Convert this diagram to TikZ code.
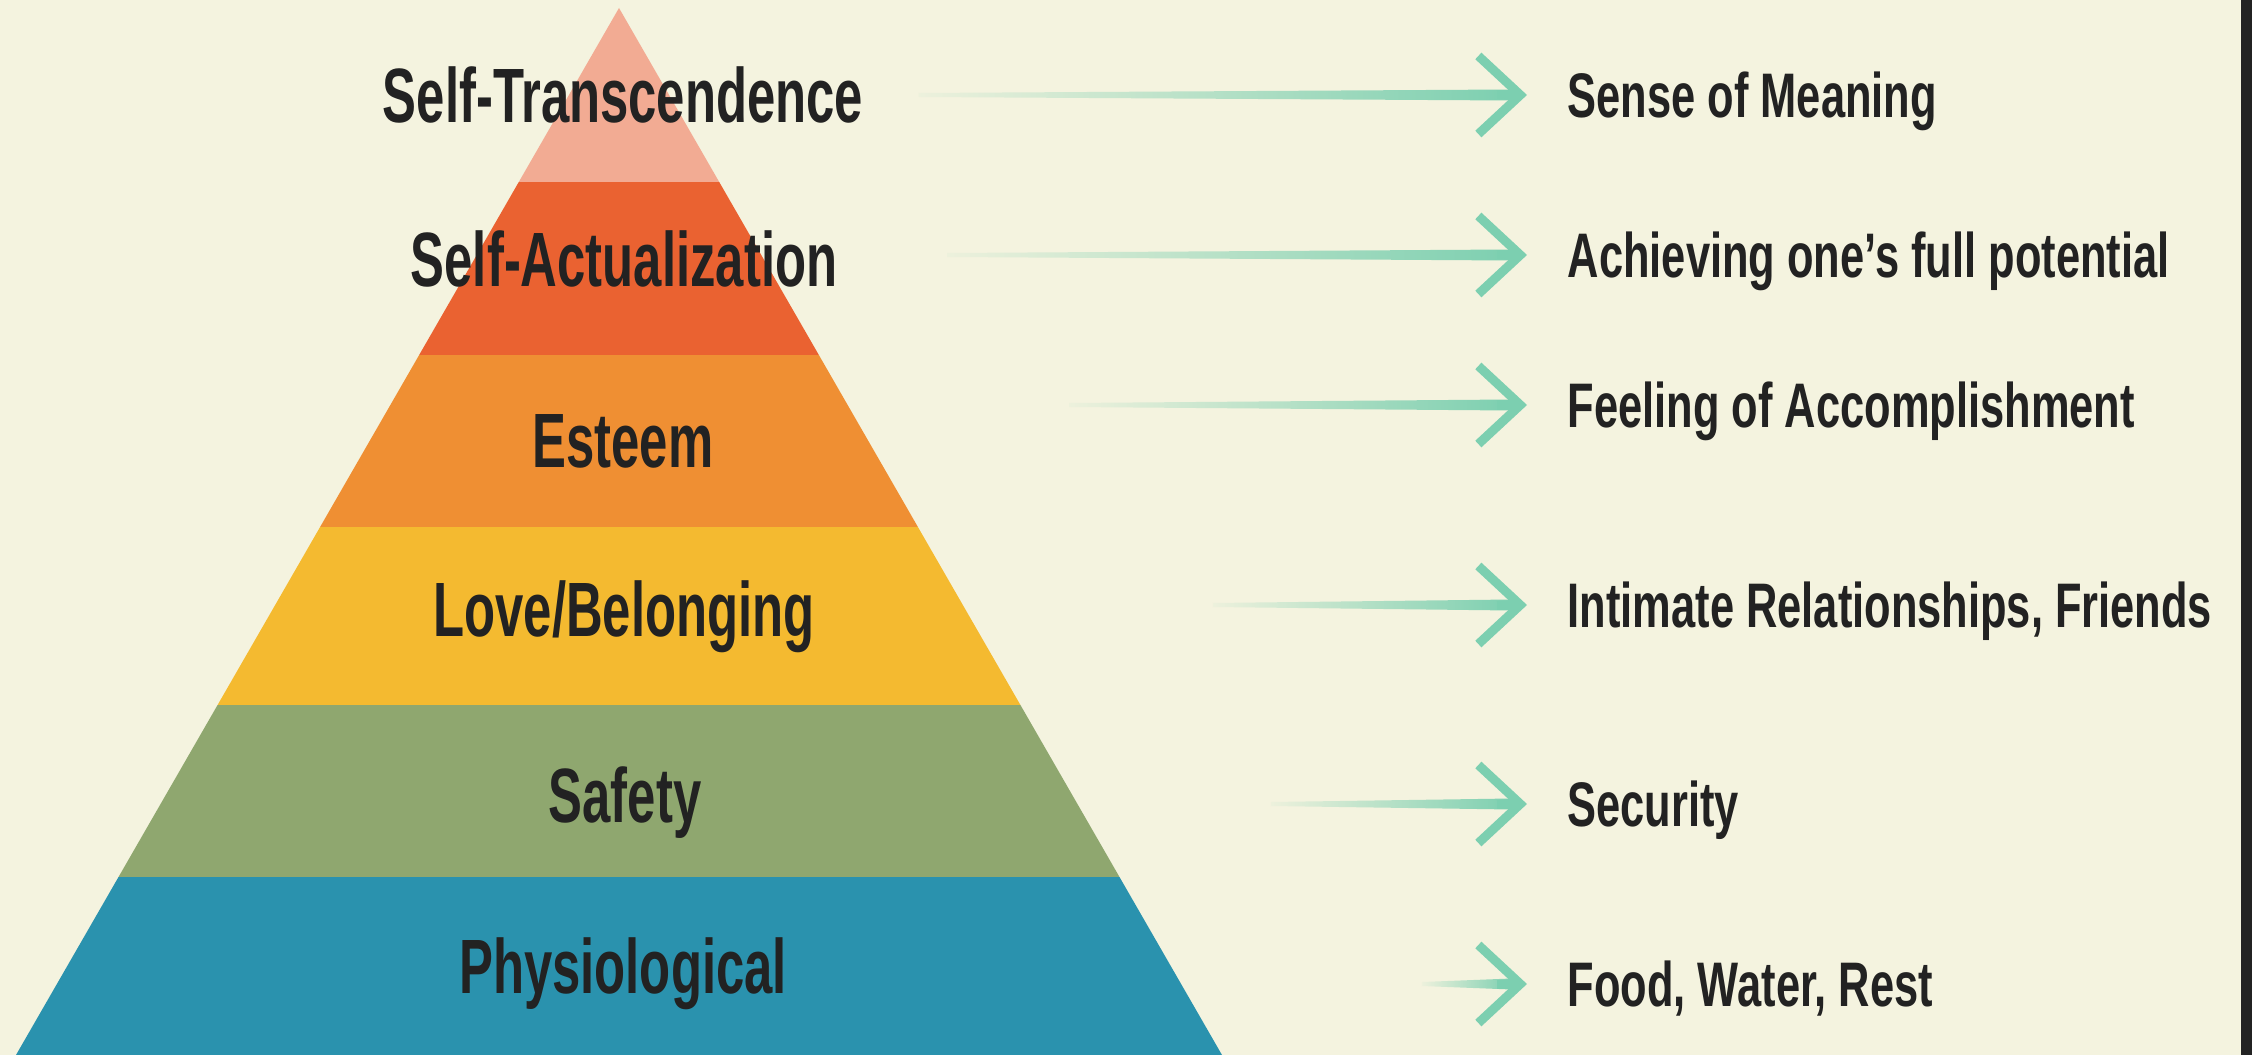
\documentclass[tikz,border=0pt]{standalone}
\usepackage{fontspec}
\newfontfamily\levelfont[FakeStretch=0.66]{Liberation Sans}
\newfontfamily\needfont[FakeStretch=0.69]{Liberation Sans}
\usetikzlibrary{positioning, arrows.meta}

\definecolor{cream}{HTML}{F4F3DF}
\definecolor{frame}{HTML}{232323}
\definecolor{ink}{HTML}{222222}
\definecolor{transcol}{HTML}{F2AB93}
\definecolor{actualcol}{HTML}{EA6231}
\definecolor{esteemcol}{HTML}{EF8F33}
\definecolor{lovecol}{HTML}{F4BA30}
\definecolor{safetycol}{HTML}{8FA76F}
\definecolor{physcol}{HTML}{2A92AE}
\definecolor{arrowcol}{HTML}{7CCFB0}

\begin{document}
\begin{tikzpicture}
	[x=0.01cm, y=-0.01cm,
	 level/.style={font=\levelfont\bfseries\fontsize{21.9}{24}\selectfont, text=ink, anchor=base, inner sep=0pt},
	 need/.style={font=\needfont\bfseries\fontsize{17.9}{20}\selectfont, text=ink, anchor=west, inner sep=0pt, text height=12.8pt, text depth=0pt},
	 shaft/.style={left color=arrowcol!6!cream, right color=arrowcol},
	 barb/.style={draw=arrowcol, line width=0.9mm, -{Straight Barb[length=4.2mm, width=7.8mm]}}]
   \useasboundingbox (0,0) rectangle (2252,1055);
   \fill[cream] (0,0) rectangle (2252,1055);
   \fill[frame] (2241,0) rectangle (2252,1055);

   % pyramid
   \coordinate (apex) at (619,8);
   \coordinate (base_l) at (16,1055);
   \coordinate (base_r) at (1222,1055);
   \begin{scope}
     \clip (apex) -- (base_l) -- (base_r) -- cycle;
     \fill[transcol]  (0,0)   rectangle (1300,182);
     \fill[actualcol] (0,182) rectangle (1300,355);
     \fill[esteemcol] (0,355) rectangle (1300,527);
     \fill[lovecol]   (0,527) rectangle (1300,705);
     \fill[safetycol] (0,705) rectangle (1300,877);
     \fill[physcol]   (0,877) rectangle (1300,1055);
   \end{scope}

   \node[level] (trans)  at (623,123) {Self-Transcendence};
   \node[level] (actual) at (624,287) {Self-Actualization};
   \node[level] (esteem) at (623,467) {Esteem};
   \node[level] (love)   at (624,636) {Love/Belonging};
   \node[level] (safety) at (625,822) {Safety};
   \node[level] (phys)   at (623,993) {Physiological};

   \node[need] (meaning)   at (1567,95)  {Sense of Meaning};
   \node[need] (potential) at (1567,255) {Achieving one’s full potential};
   \node[need] (accomp)    at (1567,405) {Feeling of Accomplishment};
   \node[need] (friends)   at (1567,605) {Intimate Relationships, Friends};
   \node[need] (security)  at (1567,804) {Security};
   \node[need] (food)      at (1567,984) {Food, Water, Rest};

   % arrows
   \coordinate[left=4mm of meaning]   (t_1);
   \coordinate[left=4mm of potential] (t_2);
   \coordinate[left=4mm of accomp]    (t_3);
   \coordinate[left=4mm of friends]   (t_4);
   \coordinate[left=4mm of security]  (t_5);
   \coordinate[left=4mm of food]      (t_6);
   \coordinate[left=6.08cm of t_1] (s_1);
   \coordinate[left=5.79cm of t_2] (s_2);
   \coordinate[left=4.57cm of t_3] (s_3);
   \coordinate[left=3.14cm of t_4] (s_4);
   \coordinate[left=2.56cm of t_5] (s_5);
   \coordinate[left=1.05cm of t_6] (s_6);

   \shade[shaft] ([yshift=0.2mm]s_1) -- ([xshift=-1.5mm, yshift=0.55mm]t_1) -- ([xshift=-1.5mm, yshift=-0.55mm]t_1) -- ([yshift=-0.2mm]s_1) -- cycle;
   \shade[shaft] ([yshift=0.2mm]s_2) -- ([xshift=-1.5mm, yshift=0.55mm]t_2) -- ([xshift=-1.5mm, yshift=-0.55mm]t_2) -- ([yshift=-0.2mm]s_2) -- cycle;
   \shade[shaft] ([yshift=0.2mm]s_3) -- ([xshift=-1.5mm, yshift=0.55mm]t_3) -- ([xshift=-1.5mm, yshift=-0.55mm]t_3) -- ([yshift=-0.2mm]s_3) -- cycle;
   \shade[shaft] ([yshift=0.2mm]s_4) -- ([xshift=-1.5mm, yshift=0.55mm]t_4) -- ([xshift=-1.5mm, yshift=-0.55mm]t_4) -- ([yshift=-0.2mm]s_4) -- cycle;
   \shade[shaft] ([yshift=0.2mm]s_5) -- ([xshift=-1.5mm, yshift=0.55mm]t_5) -- ([xshift=-1.5mm, yshift=-0.55mm]t_5) -- ([yshift=-0.2mm]s_5) -- cycle;
   \shade[shaft] ([yshift=0.2mm]s_6) -- ([xshift=-1.5mm, yshift=0.55mm]t_6) -- ([xshift=-1.5mm, yshift=-0.55mm]t_6) -- ([yshift=-0.2mm]s_6) -- cycle;
   \draw[barb] ([xshift=-3mm]t_1) -- (t_1);
   \draw[barb] ([xshift=-3mm]t_2) -- (t_2);
   \draw[barb] ([xshift=-3mm]t_3) -- (t_3);
   \draw[barb] ([xshift=-3mm]t_4) -- (t_4);
   \draw[barb] ([xshift=-3mm]t_5) -- (t_5);
   \draw[barb] ([xshift=-3mm]t_6) -- (t_6);
\end{tikzpicture}
\end{document}
